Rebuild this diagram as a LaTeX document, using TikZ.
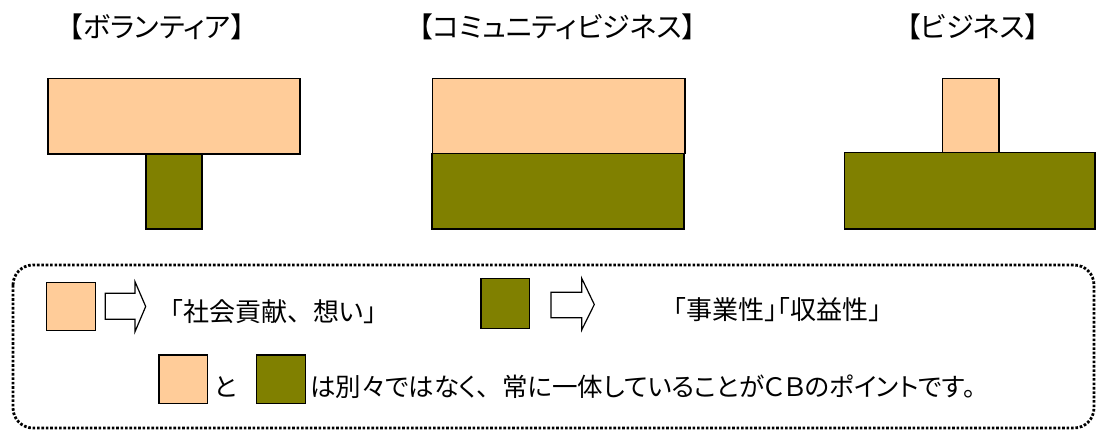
\documentclass[tikz,border=0pt]{standalone}
\usepackage{fontspec}
\newfontfamily\jp[RawFeature=+palt]{Noto Sans CJK JP}
\newfontfamily\jpf{Noto Sans CJK JP}
\definecolor{peach}{HTML}{FFCC99}
\definecolor{olivebox}{HTML}{808000}
\begin{document}
\begin{tikzpicture}[x=1pt,y=-1pt,
  pbox/.style={fill=peach,draw=black,line width=1.2pt},
  gbox/.style={fill=olivebox,draw=black,line width=1.2pt},
  lbl/.style={font=\jp\fontsize{26}{30}\selectfont, inner sep=0pt, text=black},
  lbls/.style={font=\jp\fontsize{25.5}{30}\selectfont, inner sep=0pt, text=black},
  ttl/.style={font=\jp\fontsize{28}{32}\selectfont, inner sep=0pt, text=black},
  outarrow/.style={draw=black, fill=white, line width=1.2pt, line join=miter},
  dotbox/.style={draw=black, line width=2.8pt, dash pattern=on 2.6pt off 1.8pt, rounded corners=20pt}]
\useasboundingbox (0,0) rectangle (1096,430);
% titles
\node[ttl] (t1) at (157,27) {【ボランティア】};
\node[ttl] (t2) at (557.5,27) {【コミュニティビジネス】};
\node[ttl] (t3) at (973,27) {【ビジネス】};
% volunteer
\path[pbox] (48,78.3) rectangle (300,154);
\path[gbox] (146,154) rectangle (202,229);
% community business
\path[gbox] (432,153.3) rectangle (684,229);
\path[pbox] (432.7,78.3) rectangle (685,153.3);
% business
\path[gbox] (844.3,152.7) rectangle (1095,229);
\path[pbox] (942.7,78.3) rectangle (999,152.7);
% legend frame
\path[dotbox] (13,265) rectangle (1094,428);
% row 1
\path[pbox] (46.7,282.3) rectangle (95.7,330.7);
\path[outarrow] (105.3,293.3) -- (135,293.3) -- (135,281.7) -- (145.7,306.5) -- (135,331.7) -- (135,319.3) -- (105.3,319.3) -- cycle;
\node[lbl] (l1) at (273.3,312) {「社会貢献{\jpf 、}想い」};
\path[gbox] (481,278.3) rectangle (529.3,328.3);
\path[outarrow] (551,292.3) -- (581.7,292.3) -- (581.7,278.3) -- (594.3,304.5) -- (581.7,330) -- (581.7,317.7) -- (551,317.7) -- cycle;
\node[lbl] (l2) at (777.5,310) {「事業性」「収益性」};
% row 2
\path[pbox] (159,355) rectangle (207.3,403.3);
\node[lbls] (to) at (225.7,387) {と};
\path[gbox] (256.7,355) rectangle (305.7,403.3);
\node[lbls,anchor=west] (l3) at (310,387) {は別々ではなく{\jpf 、}常に一体していることがＣＢのポイントです。};
\end{tikzpicture}
\end{document}
